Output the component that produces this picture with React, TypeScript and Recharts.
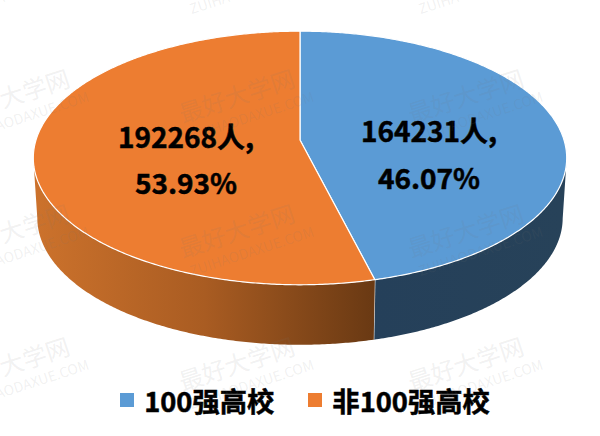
import { Legend, Pie, PieChart } from 'recharts'

const names = ['100强高校', '非100强高校']
const people = [164231, 192268]
const topColors = ['#5b9bd5', '#ed7d31']

const chartData = names.map((name, i) => ({ name, value: people[i], fill: topColors[i] }))

const font = '"Noto Sans CJK SC", "Noto Sans", sans-serif'

// the original is a tilted 3D pie: k is the perspective, the near half looks bigger
const k = 0.1417
const squash = 0.4707
const depth = 60
const bottomScale = 0.985

const labelSpots = [
  { x: 429, y1: 130, y2: 177 },
  { x: 186, y1: 136, y2: 182 },
]

const markRows = [97, 232, 365, -30]
const markCols = [12, 237, 466]

function project(cx: number, cy: number, r: number, angle: number) {
  // recharts angle -> unit circle, v is positive towards the viewer
  const rad = (angle * Math.PI) / 180
  const u = Math.cos(rad)
  const v = -Math.sin(rad)
  const w = 1 - k * v
  return { x: cx + (r * u) / w, y: cy + (r * squash * v) / w, v }
}

function anglesBetween(start: number, end: number) {
  const list: number[] = []
  const steps = Math.ceil(Math.abs(start - end) * 2)
  for (let i = 0; i <= steps; i++) list.push(start + ((end - start) * i) / steps)
  return list
}

function Slice3D(props: any) {
  const { cx, cy, outerRadius, startAngle, endAngle, fill, index } = props
  const angles = anglesBetween(startAngle, endAngle)
  const rim = angles.map((a) => project(cx, cy, outerRadius, a))
  const top = `M${cx},${cy} ` + rim.map((p) => `L${p.x.toFixed(2)},${p.y.toFixed(2)}`).join(' ') + ' Z'

  const front = rim.filter((p) => p.v >= k)
  const lower = front.map((p) => ({ x: cx + (p.x - cx) * bottomScale, y: p.y + depth })).reverse()
  const wall = [...front, ...lower].map((p, i) => `${i ? 'L' : 'M'}${p.x.toFixed(2)},${p.y.toFixed(2)}`).join(' ') + ' Z'

  // white seam only where the two slices meet at the front
  const seam = index === 0 ? front[front.length - 1] : null

  return (
    <g>
      <path d={wall} fill={`url(#wall${index})`} stroke="none" />
      {seam && (
        <line x1={seam.x} y1={seam.y} x2={cx + (seam.x - cx) * bottomScale} y2={seam.y + depth} stroke="#e8e8e8" strokeWidth={1.2} />
      )}
      <path d={top} fill={fill} stroke="#ffffff" strokeWidth={1.2} strokeLinejoin="round" />
    </g>
  )
}

function SliceLabel(props: any) {
  const { index, value, percent } = props
  const spot = labelSpots[index]
  const style = { fontFamily: font, fontSize: 28, fontWeight: 700, fill: '#000000', stroke: '#000000', strokeWidth: 0.5 }
  return (
    <g>
      <text x={spot.x} y={spot.y1} textAnchor="middle" dominantBaseline="central" style={style}>
        {`${value}人,`}
      </text>
      <text x={spot.x} y={spot.y2} textAnchor="middle" dominantBaseline="central" style={style}>
        {`${(percent * 100).toFixed(2)}%`}
      </text>
    </g>
  )
}

function LegendRow({ payload }: any) {
  return (
    <div style={{ display: 'flex', justifyContent: 'center', gap: 34, paddingLeft: 10, fontFamily: font, fontSize: 27.3, fontWeight: 700, color: '#000', lineHeight: '40px', WebkitTextStroke: '0.5px #000' }}>
      {(payload ?? []).map((item: any) => (
        <div key={item.value} style={{ display: 'flex', alignItems: 'center', gap: 10 }}>
          <span style={{ width: 14, height: 14, background: item.color, display: 'inline-block', WebkitTextStroke: 0 }} />
          {item.value}
        </div>
      ))}
    </div>
  )
}

function Watermark() {
  const cells = markRows.flatMap((y) => markCols.map((x) => ({ x, y })))
  return (
    <svg width={600} height={436} style={{ position: 'absolute', left: 0, top: 0, pointerEvents: 'none' }}>
      {cells.map((c) => (
        <g key={`${c.x}-${c.y}`} transform={`translate(${c.x},${c.y}) rotate(-18)`} fill="#777777" fillOpacity={0.11} fontFamily={font}>
          <text textAnchor="middle" fontSize={24} y={8}>最好大学网</text>
          <text textAnchor="middle" fontSize={14} x={8} y={28}>ZUIHAODAXUE.COM</text>
        </g>
      ))}
    </svg>
  )
}

export default function App() {
  return (
    <div style={{ position: 'absolute', left: 0, top: 0, width: 600, height: 436 }}>
      <PieChart width={600} height={436} margin={{ top: 0, right: 0, bottom: 0, left: 0 }}>
        <defs>
          <linearGradient id="wall0" gradientUnits="userSpaceOnUse" x1="375" y1="0" x2="565" y2="0">
            <stop offset="0%" stopColor="#25405a" />
            <stop offset="100%" stopColor="#274259" />
          </linearGradient>
          <linearGradient id="wall1" gradientUnits="userSpaceOnUse" x1="35" y1="0" x2="375" y2="0">
            <stop offset="0%" stopColor="#cc722c" />
            <stop offset="50%" stopColor="#a95c22" />
            <stop offset="100%" stopColor="#693913" />
          </linearGradient>
        </defs>
        <Pie
          data={chartData}
          dataKey="value"
          nameKey="name"
          cx={300}
          cy={140}
          outerRadius={264}
          startAngle={90}
          endAngle={-270}
          stroke="none"
          shape={Slice3D}
          label={SliceLabel}
          labelLine={false}
          isAnimationActive={false}
        />
        <Legend content={<LegendRow />} wrapperStyle={{ top: 380, left: 0, width: 600 }} />
      </PieChart>
      <Watermark />
    </div>
  )
}
